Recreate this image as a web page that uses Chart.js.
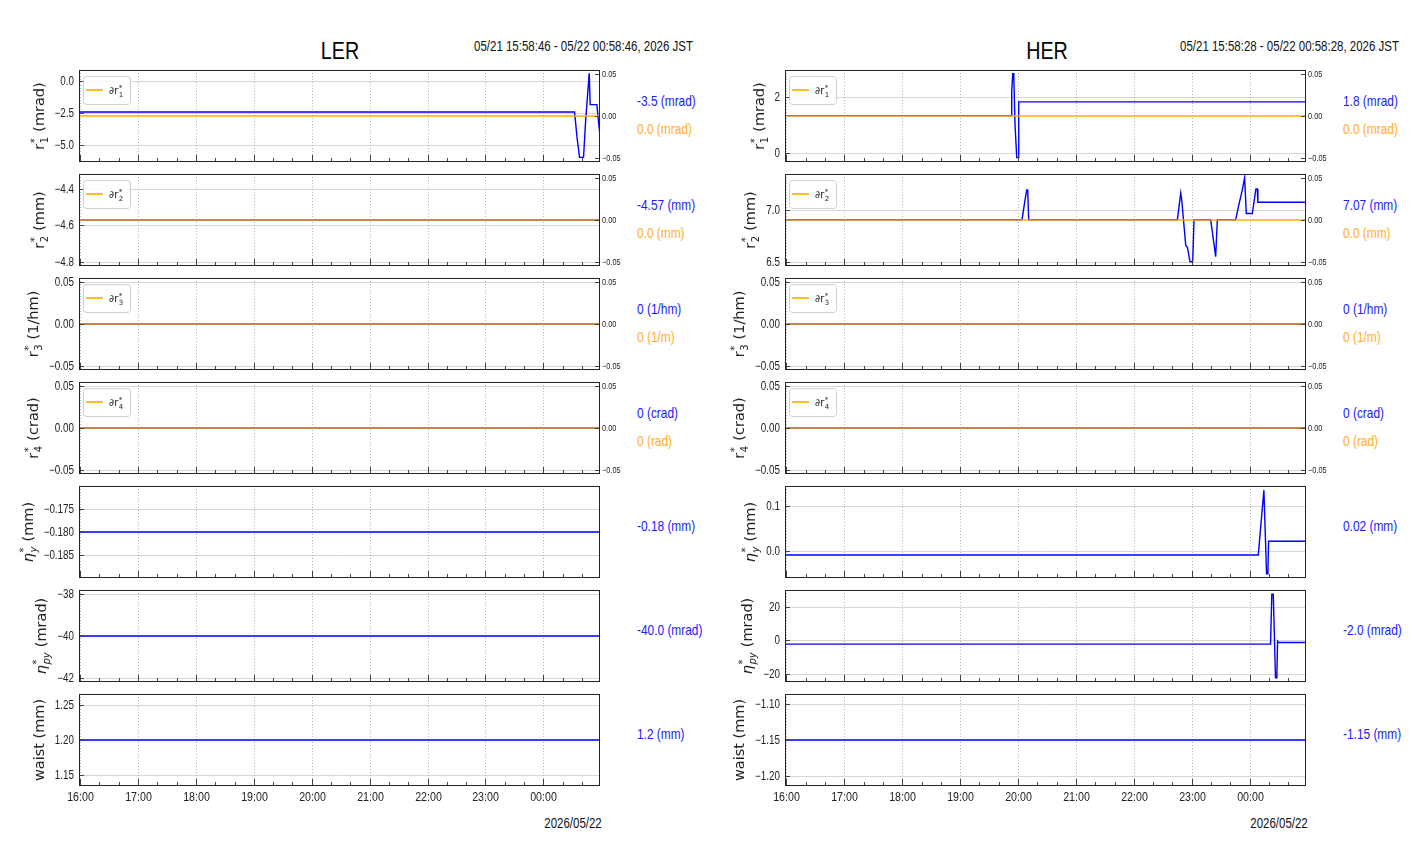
<!DOCTYPE html>
<html>
<head>
<meta charset="utf-8">
<script src="https://cdn.jsdelivr.net/npm/chart.js@4.4.1/dist/chart.umd.min.js"></script>
<style>
  body { margin: 0; background: #fff; width: 1412px; height: 864px; overflow: hidden; position: relative;
         font-family: "Liberation Sans", Arial, sans-serif; color: #111; }
  canvas { position: absolute; }
  .t { position: absolute; white-space: nowrap; line-height: 1; }
</style>
</head>
<body>
<script>
// ---- x axis: hours after 16:00 JST ----
const hourTicks = [0, 1, 2, 3, 4, 5, 6, 7, 8];
const hourLabels = ["16:00", "17:00", "18:00", "19:00", "20:00", "21:00", "22:00", "23:00", "00:00"];
const lerSpan = [-0.0206, 8.9794];   // 15:58:46 - 00:58:46
const herSpan = [-0.0256, 8.9744];   // 15:58:28 - 00:58:28

// ---- LER traces ----
const lerR1Hours  = [-0.0206, 8.540, 8.581, 8.626, 8.695, 8.733, 8.767, 8.793, 8.810, 8.926, 8.948, 8.971, 8.9794];
const lerR1Values = [-2.44, -2.44, -4.36, -5.97, -5.97, -3.0, -1.0, 0.56, -1.87, -1.87, -2.95, -3.92, -3.92];
const lerR2Values = [-4.57, -4.57];
const lerR3Values = [0, 0];
const lerR4Values = [0, 0];
const lerEtaYValues = [-0.18, -0.18];
const lerEtaPyValues = [-40.0, -40.0];
const lerWaistValues = [1.2, 1.2];

// ---- HER traces ----
const herR1Hours  = [-0.0256, 3.879, 3.891, 3.909, 3.926, 3.948, 3.978, 4.005, 4.012, 8.9744];
const herR1Values = [1.33, 1.33, 2.2, 2.82, 2.82, 1.0, -0.16, -0.16, 1.82, 1.82];
const herR2Hours  = [-0.0256, 4.069, 4.109, 4.150, 4.167, 4.184, 6.753, 6.810, 6.828, 6.897, 6.926, 6.971, 7.017, 7.040,
                     7.328, 7.414, 7.443, 7.759, 7.816, 7.874, 7.914, 7.943, 8.047, 8.109, 8.133, 8.143, 8.9744];
const herR2Values = [6.91, 6.91, 7.06, 7.20, 7.20, 6.91, 6.91, 7.17, 7.10, 6.66, 6.64, 6.50, 6.50, 6.91,
                     6.91, 6.55, 6.91, 6.91, 7.06, 7.20, 7.32, 6.97, 6.97, 7.21, 7.21, 7.08, 7.08];
const herR3Values = [0, 0];
const herR4Values = [0, 0];
const herEtaYHours  = [-0.0256, 8.150, 8.247, 8.293, 8.316, 8.328, 8.9744];
const herEtaYValues = [-0.0087, -0.0087, 0.134, -0.050, -0.050, 0.0217, 0.0217];
const herEtaPyHours  = [-0.0256, 8.362, 8.384, 8.409, 8.448, 8.471, 8.483, 8.500, 8.9744];
const herEtaPyValues = [-2.35, -2.35, 27.5, 27.5, -22.5, -22.5, -0.6, -1.35, -1.35];
const herWaistValues = [-1.15, -1.15];

// ∂r* traces (right axis)
const dRValues = [0, 0];

// ---- axis ranges / tick labels ----
const dRange = [-0.055, 0.055];
const dTicks = [0.05, 0.0, -0.05];
const lerR1Range = [-6.33, 0.82],        lerR1Ticks = [0.0, -2.5, -5.0];
const lerR2Range = [-4.8213, -4.3187],   lerR2Ticks = [-4.4, -4.6, -4.8];
const lerR3Range = [-0.055, 0.055],      lerR3Ticks = [0.05, 0.0, -0.05];
const lerR4Range = [-0.055, 0.055],      lerR4Ticks = [0.05, 0.0, -0.05];
const lerEtaYRange = [-0.1899, -0.1701], lerEtaYTicks = [-0.175, -0.180, -0.185];
const lerEtaPyRange = [-42.2, -37.8],    lerEtaPyTicks = [-38, -40, -42];
const lerWaistRange = [1.134, 1.266],    lerWaistTicks = [1.25, 1.20, 1.15];
const herR1Range = [-0.314, 2.95],       herR1Ticks = [2, 0];
const herR2Range = [6.459, 7.355],       herR2Ticks = [7.0, 6.5];
const herR3Range = [-0.055, 0.055],      herR3Ticks = [0.05, 0.0, -0.05];
const herR4Range = [-0.055, 0.055],      herR4Ticks = [0.05, 0.0, -0.05];
const herEtaYRange = [-0.0592, 0.1432],  herEtaYTicks = [0.1, 0.0];
const herEtaPyRange = [-25, 30],         herEtaPyTicks = [20, 0, -20];
const herWaistRange = [-1.2133, -1.0868], herWaistTicks = [-1.10, -1.15, -1.20];

// no narrow face installed: squeeze Liberation Sans horizontally
const NARROW = '"Liberation Sans", Arial, sans-serif';
const SQUEEZE = 0.82;
const WIDE = '"DejaVu Sans", sans-serif';
const BLUE = "#0000ff";
const ORANGE = "rgba(255,165,0,0.7)";

function fmt(v, dec) {
  return (v < 0 ? "\u2212" : "") + Math.abs(v).toFixed(dec);
}
function zip(xs, ys) {
  return xs.map((x, i) => ({ x, y: ys[i] }));
}
function narrowText(ctx, txt, x, y, align, size, base) {
  ctx.save();
  ctx.font = size + "px " + NARROW;
  ctx.textAlign = align;
  ctx.textBaseline = base || "middle";
  ctx.translate(x, y);
  ctx.scale(SQUEEZE, 1);
  ctx.fillText(txt, 0, 0);
  ctx.restore();
}

// rich text: plain runs + stacked sup/sub
function richWidth(ctx, parts, size, fam) {
  let w = 0;
  parts.forEach(p => {
    if (p.t !== undefined) { ctx.font = (p.it ? "italic " : "") + size + "px " + fam; w += ctx.measureText(p.t).width; }
    else {
      const s = Math.round(size * 0.7);
      ctx.font = s + "px " + fam; const a = ctx.measureText(p.sup).width;
      ctx.font = (p.subIt ? "italic " : "") + s + "px " + fam; const b = ctx.measureText(p.sub).width;
      w += Math.max(a, b) + 1;
    }
  });
  return w;
}
function drawRich(ctx, parts, x, y, size, fam) {
  parts.forEach(p => {
    if (p.t !== undefined) {
      ctx.font = (p.it ? "italic " : "") + size + "px " + fam;
      ctx.fillText(p.t, x, y); x += ctx.measureText(p.t).width;
    } else {
      const s = Math.round(size * 0.7);
      ctx.font = s + "px " + fam; const a = ctx.measureText(p.sup).width;
      ctx.fillText(p.sup, x + 0.5, y - size * 0.42);
      ctx.font = (p.subIt ? "italic " : "") + s + "px " + fam; const b = ctx.measureText(p.sub).width;
      ctx.fillText(p.sub, x + 0.5, y + size * 0.28);
      x += Math.max(a, b) + 1;
    }
  });
}

function framePlugin(p) {
  return {
    id: "frame",
    beforeDatasetsDraw(chart) {
      const { ctx, chartArea: a, scales } = chart;
      ctx.save();
      ctx.lineWidth = 1;
      ctx.strokeStyle = "#d6d6d6";
      p.yTicks.forEach(v => {
        const y = Math.round(scales.y.getPixelForValue(v)) + 0.5;
        ctx.beginPath(); ctx.moveTo(a.left, y); ctx.lineTo(a.right, y); ctx.stroke();
      });
      ctx.strokeStyle = "#b4b4b4";
      ctx.setLineDash([1, 2]);
      hourTicks.forEach(h => {
        const x = Math.round(scales.x.getPixelForValue(h)) + 0.5;
        ctx.beginPath(); ctx.moveTo(x, a.top); ctx.lineTo(x, a.bottom); ctx.stroke();
      });
      ctx.restore();
    },
    afterDraw(chart) {
      const { ctx, chartArea: a, scales } = chart;
      ctx.save();
      ctx.lineWidth = 1;
      ctx.strokeStyle = "#444";
      ctx.fillStyle = "#222";
      const line = (x1, y1, x2, y2) => { ctx.beginPath(); ctx.moveTo(x1, y1); ctx.lineTo(x2, y2); ctx.stroke(); };
      // x ticks, inward
      hourTicks.forEach((h, i) => {
        const x = Math.round(scales.x.getPixelForValue(h)) + 0.5;
        line(x, a.bottom, x, a.bottom - 7);
        [1 / 3, 2 / 3].forEach(f => {
          if (h + f > p.span[1]) return;
          const xm = Math.round(scales.x.getPixelForValue(h + f)) + 0.5;
          line(xm, a.bottom, xm, a.bottom - 4);
        });
        if (p.last) narrowText(ctx, hourLabels[i], x, a.bottom + 5, "center", 13, "top");
      });
      // y ticks, inward, with labels
      ctx.font = "12px " + NARROW;
      let maxW = 0;
      p.yTicks.forEach(v => {
        const y = Math.round(scales.y.getPixelForValue(v)) + 0.5;
        line(a.left, y, a.left + 5, y);
        const s = fmt(v, p.dec);
        narrowText(ctx, s, a.left - 5, y, "right", 12);
        ctx.font = "12px " + NARROW;
        maxW = Math.max(maxW, ctx.measureText(s).width * SQUEEZE);
      });
      if (p.dValues) {
        dTicks.forEach(v => {
          const y = Math.round(scales.y1.getPixelForValue(v)) + 0.5;
          line(a.right, y, a.right - 5, y);
          narrowText(ctx, fmt(v, 2), a.right + 2, y, "left", 9);
        });
      }
      // frame
      ctx.strokeStyle = "#222";
      ctx.strokeRect(a.left + 0.5, a.top + 0.5, a.right - a.left - 1, a.bottom - a.top - 1);

      // legend
      if (p.legend) {
        const bx = a.left + 4.5, by = a.top + 6.5, bw = 47, bh = 28;
        ctx.fillStyle = "rgba(255,255,255,0.85)";
        ctx.strokeStyle = "#d0d0d0";
        ctx.beginPath(); ctx.roundRect(bx, by, bw, bh, 3); ctx.fill(); ctx.stroke();
        ctx.strokeStyle = "orange"; ctx.lineWidth = 1.5;
        line(a.left + 7, a.top + 20, a.left + 24, a.top + 20);
        ctx.fillStyle = "#222";
        ctx.textBaseline = "alphabetic";
        drawRich(ctx, p.legend, a.left + 30, a.top + 24, 10, WIDE);
      }

      // y title
      const cx = a.left - 5 - maxW - 16;
      const cy = (a.top + a.bottom) / 2;
      ctx.translate(cx, cy);
      ctx.rotate(-Math.PI / 2);
      ctx.fillStyle = "#222";
      ctx.textBaseline = "alphabetic";
      const size = 14.5;
      const w = richWidth(ctx, p.title, size, WIDE);
      drawRich(ctx, p.title, -w / 2, size * 0.35, size, WIDE);
      ctx.restore();
    }
  };
}

// ---- panels ----
const R = (n, u) => [{ t: "r" }, { sup: "*", sub: String(n) }, { t: " (" + u + ")" }];
const ETA = (s, u) => [{ t: "\u03b7", it: true }, { sup: "*", sub: s, subIt: true }, { t: " (" + u + ")" }];
const DR = n => [{ t: "\u2202r" }, { sup: "*", sub: String(n) }];

const columns = [
  {
    left: 0, span: lerSpan, labelX: 637,
    name: "LER", nameX: 340, stamp: "05/21 15:58:46 - 05/22 00:58:46, 2026 JST", stampRight: 693, dateX: 573,
    panels: [
      { hours: lerR1Hours, values: lerR1Values, range: lerR1Range, yTicks: lerR1Ticks, dec: 1, title: R(1, "mrad"), legend: DR(1), dValues: dRValues, text: "-3.5 (mrad)", dText: "0.0 (mrad)" },
      { hours: lerSpan, values: lerR2Values, range: lerR2Range, yTicks: lerR2Ticks, dec: 1, title: R(2, "mm"), legend: DR(2), dValues: dRValues, text: "-4.57 (mm)", dText: "0.0 (mm)" },
      { hours: lerSpan, values: lerR3Values, range: lerR3Range, yTicks: lerR3Ticks, dec: 2, title: R(3, "1/hm"), legend: DR(3), dValues: dRValues, text: "0 (1/hm)", dText: "0 (1/m)" },
      { hours: lerSpan, values: lerR4Values, range: lerR4Range, yTicks: lerR4Ticks, dec: 2, title: R(4, "crad"), legend: DR(4), dValues: dRValues, text: "0 (crad)", dText: "0 (rad)" },
      { hours: lerSpan, values: lerEtaYValues, range: lerEtaYRange, yTicks: lerEtaYTicks, dec: 3, title: ETA("y", "mm"), text: "-0.18 (mm)" },
      { hours: lerSpan, values: lerEtaPyValues, range: lerEtaPyRange, yTicks: lerEtaPyTicks, dec: 0, title: ETA("py", "mrad"), text: "-40.0 (mrad)" },
      { hours: lerSpan, values: lerWaistValues, range: lerWaistRange, yTicks: lerWaistTicks, dec: 2, title: [{ t: "waist (mm)" }], text: "1.2 (mm)" }
    ]
  },
  {
    left: 706, span: herSpan, labelX: 1343,
    name: "HER", nameX: 1047, stamp: "05/21 15:58:28 - 05/22 00:58:28, 2026 JST", stampRight: 1399, dateX: 1279,
    panels: [
      { hours: herR1Hours, values: herR1Values, range: herR1Range, yTicks: herR1Ticks, dec: 0, title: R(1, "mrad"), legend: DR(1), dValues: dRValues, text: "1.8 (mrad)", dText: "0.0 (mrad)" },
      { hours: herR2Hours, values: herR2Values, range: herR2Range, yTicks: herR2Ticks, dec: 1, title: R(2, "mm"), legend: DR(2), dValues: dRValues, text: "7.07 (mm)", dText: "0.0 (mm)" },
      { hours: herSpan, values: herR3Values, range: herR3Range, yTicks: herR3Ticks, dec: 2, title: R(3, "1/hm"), legend: DR(3), dValues: dRValues, text: "0 (1/hm)", dText: "0 (1/m)" },
      { hours: herSpan, values: herR4Values, range: herR4Range, yTicks: herR4Ticks, dec: 2, title: R(4, "crad"), legend: DR(4), dValues: dRValues, text: "0 (crad)", dText: "0 (rad)" },
      { hours: herEtaYHours, values: herEtaYValues, range: herEtaYRange, yTicks: herEtaYTicks, dec: 1, title: ETA("y", "mm"), text: "0.02 (mm)" },
      { hours: herEtaPyHours, values: herEtaPyValues, range: herEtaPyRange, yTicks: herEtaPyTicks, dec: 0, title: ETA("py", "mrad"), text: "-2.0 (mrad)" },
      { hours: herSpan, values: herWaistValues, range: herWaistRange, yTicks: herWaistTicks, dec: 2, title: [{ t: "waist (mm)" }], text: "-1.15 (mm)" }
    ]
  }
];

function addText(txt, x, y, size, color, align) {
  const d = document.createElement("div");
  d.className = "t";
  d.textContent = txt;
  d.style.fontSize = size + "px";
  d.style.color = color;
  d.style.top = y + "px";
  if (align === "center") {
    d.style.left = x + "px";
    d.style.transformOrigin = "center center";
    d.style.transform = "translate(-50%,-50%) scaleX(" + SQUEEZE + ")";
  } else if (align === "right") {
    d.style.right = (1412 - x) + "px";
    d.style.transformOrigin = "right center";
    d.style.transform = "translateY(-50%) scaleX(" + SQUEEZE + ")";
  } else {
    d.style.left = x + "px";
    d.style.transformOrigin = "left center";
    d.style.transform = "translateY(-50%) scaleX(" + SQUEEZE + ")";
  }
  document.body.appendChild(d);
}

columns.forEach(col => {
  addText(col.name, col.nameX, 51, 24, "#000", "center");
  addText(col.stamp, col.stampRight, 46, 14, "#111", "right");
  addText("2026/05/22", col.dateX, 823, 14, "#111", "center");

  col.panels.forEach((p, row) => {
    p.span = col.span;
    const last = row === col.panels.length - 1;
    p.last = last;
    const plotTop = 70 + 104 * row;
    const cv = document.createElement("canvas");
    cv.width = 636;
    cv.height = last ? 128 : 104;
    cv.style.left = col.left + "px";
    cv.style.top = (plotTop - 6) + "px";
    document.body.appendChild(cv);

    const datasets = [];
    if (p.dValues) {
      datasets.push({ data: zip(col.span, p.dValues), yAxisID: "y1", borderColor: ORANGE, borderWidth: 1.8, order: 0 });
    }
    datasets.push({ data: zip(p.hours, p.values), yAxisID: "y", borderColor: BLUE, borderWidth: 1.4, order: 1 });

    const scales = {
      x: {
        type: "linear", min: col.span[0], max: col.span[1],
        afterBuildTicks: s => { s.ticks = hourTicks.map(v => ({ value: v })); },
        afterFit: s => { s.height = last ? 30 : 6; },
        grid: { display: false, drawTicks: false },
        border: { display: false },
        ticks: { display: false }
      },
      y: {
        type: "linear", position: "left", min: p.range[0], max: p.range[1],
        afterBuildTicks: s => { s.ticks = p.yTicks.map(v => ({ value: v })); },
        afterFit: s => { s.width = 79; },
        grid: { display: false, drawTicks: false },
        border: { display: false },
        ticks: { display: false }
      }
    };
    if (p.dValues) {
      scales.y1 = {
        type: "linear", position: "right", min: dRange[0], max: dRange[1],
        afterBuildTicks: s => { s.ticks = dTicks.map(v => ({ value: v })); },
        afterFit: s => { s.width = 36; },
        grid: { display: false, drawTicks: false },
        border: { display: false },
        ticks: { display: false }
      };
    }

    new Chart(cv, {
      type: "line",
      data: { datasets },
      options: {
        responsive: false,
        animation: false,
        devicePixelRatio: 1,
        layout: { padding: { top: 6, bottom: 0, left: 0, right: p.dValues ? 0 : 36 } },
        elements: { point: { radius: 0 }, line: { tension: 0 } },
        plugins: { legend: { display: false }, tooltip: { enabled: false } },
        scales
      },
      plugins: [framePlugin(p)]
    });

    if (p.dValues) {
      addText(p.text, col.labelX, plotTop + 31, 14.5, "#1a1aff");
      addText(p.dText, col.labelX, plotTop + 59, 14.5, "#ffae1a");
    } else {
      addText(p.text, col.labelX, plotTop + 40, 14.5, "#1a1aff");
    }
  });
});
</script>
</body>
</html>
